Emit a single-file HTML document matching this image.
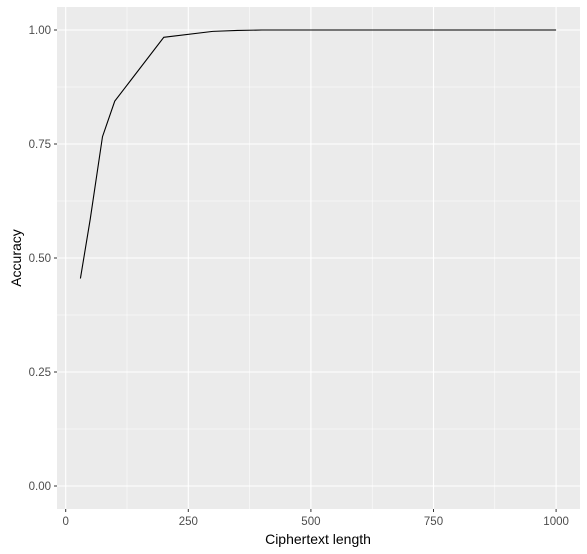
<!DOCTYPE html>
<html><head><style>
body{margin:0;background:#fff;}
svg{display:block;font-family:"Liberation Sans",Arial,sans-serif;}
</style></head><body>
<svg id="c" width="587" height="554">
<rect x="57" y="7" width="523" height="502" fill="#ebebeb"/>
<g id="grid"></g>
<path id="line" fill="none" stroke="#000" stroke-width="1.1"/>
<g id="axes"></g>
<text x="318" y="544" text-anchor="middle" font-size="14" fill="#000">Ciphertext length</text>
<text transform="translate(21,258) rotate(-90)" text-anchor="middle" font-size="14" fill="#000">Accuracy</text>
</svg>
<script>
const lengths=[30,50,75,100,200,300,350,400,500,600,700,800,900,1000];
const accuracy=[0.455,0.585,0.766,0.844,0.984,0.997,0.999,1,1,1,1,1,1,1];
const xTicks=[0,250,500,750,1000];
const yTicks=[0,0.25,0.5,0.75,1];
const yTickLabels=["0.00","0.25","0.50","0.75","1.00"];
const sx=v=>65.7+v*0.4904;
const sy=v=>486-v*456;
const NS="http://www.w3.org/2000/svg";
const grid=document.getElementById('grid'),axes=document.getElementById('axes');
function mk(tag,attrs,parent){const e=document.createElementNS(NS,tag);for(const k in attrs)e.setAttribute(k,attrs[k]);parent.appendChild(e);return e;}
for(let i=0;i<xTicks.length-1;i++){const m=(xTicks[i]+xTicks[i+1])/2;
 const g=mk('line',{x1:sx(m),x2:sx(m),y1:7,y2:509,stroke:'#fff','stroke-width':0.5},grid);
 
 }
for(let i=0;i<yTicks.length-1;i++){const m=(yTicks[i]+yTicks[i+1])/2;
 const g=mk('line',{x1:57,x2:580,y1:sy(m),y2:sy(m),stroke:'#fff','stroke-width':0.5},grid);
 
 }
xTicks.forEach(t=>{
 const g=mk('line',{x1:sx(t),x2:sx(t),y1:7,y2:509,stroke:'#fff','stroke-width':1.1},grid);
 
 
 const tk=mk('line',{x1:sx(t),x2:sx(t),y1:509,y2:512,stroke:'#333','stroke-width':1},axes);
 
 
 const tx=mk('text',{x:sx(t),y:525,'text-anchor':'middle','font-size':11.5,fill:'#4d4d4d'},axes);
 tx.textContent=t;
 
 
});
yTicks.forEach((t,i)=>{
 const g=mk('line',{x1:57,x2:580,y1:sy(t),y2:sy(t),stroke:'#fff','stroke-width':1.1},grid);
 
 
 const tk=mk('line',{x1:54,x2:57,y1:sy(t),y2:sy(t),stroke:'#333','stroke-width':1},axes);
 
 
 const tx=mk('text',{x:51,y:sy(t)+4,'text-anchor':'end','font-size':11.5,fill:'#4d4d4d'},axes);
 tx.textContent=yTickLabels[i];
 
 
});
document.getElementById('line').setAttribute('d',lengths.map((v,i)=>(i?'L':'M')+sx(v)+','+sy(accuracy[i])).join(' '));
</script>
</body></html>
